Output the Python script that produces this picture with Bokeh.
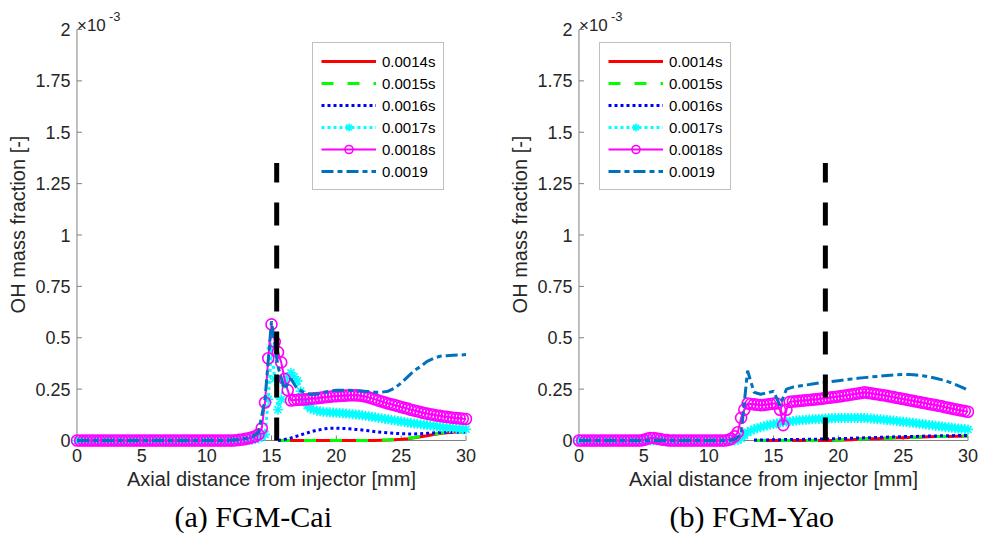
import math
import numpy as np
from bokeh.plotting import figure
from bokeh.layouts import row
from bokeh.models import FixedTicker, Legend, LegendItem, Label, Title, Range1d
from bokeh.embed import file_html
from bokeh.resources import INLINE

NAN = float("nan")

# Axial sampling positions along the injector axis [mm]
AXIAL_MM = [0.0, 0.5, 1.0, 1.5, 2.0, 2.5, 3.0, 3.5, 4.0, 4.5,
            5.0, 5.5, 6.0, 6.5, 7.0, 7.5, 8.0, 8.5, 9.0, 9.5,
            10.0, 10.5, 11.0, 11.5, 12.0, 12.5, 13.0, 13.5, 14.0, 14.5,
            15.0, 15.5, 16.0, 16.5, 17.0, 17.5, 18.0, 18.5, 19.0, 19.5,
            20.0, 20.5, 21.0, 21.5, 22.0, 22.5, 23.0, 23.5, 24.0, 24.5,
            25.0, 25.5, 26.0, 26.5, 27.0, 27.5, 28.0, 28.5, 29.0, 29.5,
            30.0]

# Finer sampling used for the marked (0.0017 s / 0.0018 s) profiles [mm]
AXIAL_FINE_MM = [0.0, 0.25, 0.5, 0.75, 1.0, 1.25, 1.5, 1.75,
                 2.0, 2.25, 2.5, 2.75, 3.0, 3.25, 3.5, 3.75,
                 4.0, 4.25, 4.5, 4.75, 5.0, 5.25, 5.5, 5.75,
                 6.0, 6.25, 6.5, 6.75, 7.0, 7.25, 7.5, 7.75,
                 8.0, 8.25, 8.5, 8.75, 9.0, 9.25, 9.5, 9.75,
                 10.0, 10.25, 10.5, 10.75, 11.0, 11.25, 11.5, 11.75,
                 12.0, 12.25, 12.5, 12.75, 13.0, 13.25, 13.5, 13.75,
                 14.0, 14.25, 14.5, 14.75, 15.0, 15.25, 15.5, 15.75,
                 16.0, 16.25, 16.5, 16.75, 17.0, 17.25, 17.5, 17.75,
                 18.0, 18.25, 18.5, 18.75, 19.0, 19.25, 19.5, 19.75,
                 20.0, 20.25, 20.5, 20.75, 21.0, 21.25, 21.5, 21.75,
                 22.0, 22.25, 22.5, 22.75, 23.0, 23.25, 23.5, 23.75,
                 24.0, 24.25, 24.5, 24.75, 25.0, 25.25, 25.5, 25.75,
                 26.0, 26.25, 26.5, 26.75, 27.0, 27.25, 27.5, 27.75,
                 28.0, 28.25, 28.5, 28.75, 29.0, 29.25, 29.5, 29.75,
                 30.0]

TIME_LABELS = ["0.0014s", "0.0015s", "0.0016s", "0.0017s", "0.0018s", "0.0019"]

# OH mass fraction (x 1e-3), FGM-Cai
CAI_0014 = [NAN, NAN, NAN, NAN, NAN, NAN, NAN, NAN, NAN, NAN,
            NAN, NAN, NAN, NAN, NAN, NAN, NAN, NAN, NAN, NAN,
            NAN, NAN, NAN, NAN, NAN, NAN, NAN, NAN, NAN, NAN,
            NAN, 0.0, 0.0, 0.0, 0.0, 0.0, 0.0, 0.0, 0.0, 0.0,
            0.0, 0.0, 0.0, 0.0, 0.0, 0.0, 0.0, 0.001, 0.002, 0.004,
            0.006, 0.009, 0.013, 0.018, 0.023, 0.029, 0.034, 0.038, 0.040, 0.041,
            0.042]
CAI_0015 = [NAN, NAN, NAN, NAN, NAN, NAN, NAN, NAN, NAN, NAN,
            NAN, NAN, NAN, NAN, NAN, NAN, NAN, NAN, NAN, NAN,
            NAN, NAN, NAN, NAN, NAN, NAN, NAN, NAN, NAN, NAN,
            NAN, 0.0, 0.0, 0.0, 0.0, 0.0, 0.0, 0.0, 0.0, 0.0,
            0.0, 0.0, 0.0, 0.0, 0.0, 0.0, 0.001, 0.002, 0.003, 0.005,
            0.008, 0.011, 0.015, 0.020, 0.026, 0.031, 0.036, 0.039, 0.041, 0.042,
            0.042]
CAI_0016 = [NAN, NAN, NAN, NAN, NAN, NAN, NAN, NAN, NAN, NAN,
            NAN, NAN, NAN, NAN, NAN, NAN, NAN, NAN, NAN, NAN,
            NAN, NAN, NAN, NAN, NAN, NAN, NAN, NAN, NAN, NAN,
            NAN, 0.0, 0.005, 0.013, 0.022, 0.032, 0.042, 0.050, 0.056, 0.060,
            0.060, 0.059, 0.057, 0.054, 0.051, 0.047, 0.043, 0.040, 0.037, 0.035,
            0.033, 0.032, 0.032, 0.033, 0.035, 0.037, 0.039, 0.040, 0.041, 0.041,
            0.041]
CAI_0017 = [0.0, 0.0, 0.0, 0.0, 0.0, 0.0, 0.0, 0.0,
            0.0, 0.0, 0.0, 0.0, 0.0, 0.0, 0.0, 0.0,
            0.0, 0.0, 0.0, 0.0, 0.0, 0.0, 0.0, 0.0,
            0.0, 0.0, 0.0, 0.0, 0.0, 0.0, 0.0, 0.0,
            0.0, 0.0, 0.0, 0.0, 0.0, 0.0, 0.0, 0.0,
            0.0, 0.0, 0.0, 0.0, 0.0, 0.0, 0.0, 0.0,
            0.0, 0.0, 0.0, 0.0, 0.001, 0.002, 0.004, 0.007,
            0.010, 0.018, 0.030, 0.200, 0.450, 0.300, 0.150, 0.200,
            0.280, 0.310, 0.330, 0.310, 0.290, 0.240, 0.190, 0.170,
            0.155, 0.150, 0.145, 0.142, 0.140, 0.138, 0.137, 0.136,
            0.135, 0.134, 0.133, 0.131, 0.130, 0.128, 0.127, 0.125,
            0.123, 0.120, 0.118, 0.115, 0.113, 0.110, 0.108, 0.105,
            0.103, 0.100, 0.098, 0.095, 0.093, 0.090, 0.088, 0.085,
            0.083, 0.081, 0.079, 0.077, 0.075, 0.073, 0.071, 0.069,
            0.067, 0.065, 0.063, 0.061, 0.060, 0.058, 0.057, 0.056,
            0.055]
CAI_0018 = [0.0, 0.0, 0.0, 0.0, 0.0, 0.0, 0.0, 0.0,
            0.0, 0.0, 0.0, 0.0, 0.0, 0.0, 0.0, 0.0,
            0.0, 0.0, 0.0, 0.0, 0.0, 0.0, 0.0, 0.0,
            0.0, 0.0, 0.0, 0.0, 0.0, 0.0, 0.0, 0.0,
            0.0, 0.0, 0.0, 0.0, 0.0, 0.0, 0.0, 0.0,
            0.0, 0.0, 0.0, 0.0, 0.0, 0.0, 0.0, 0.0,
            0.0, 0.001, 0.003, 0.005, 0.008, 0.011, 0.015, 0.020,
            0.030, 0.060, 0.185, 0.400, 0.565, 0.480, 0.430, 0.380,
            0.300, 0.245, 0.195, 0.197, 0.198, 0.199, 0.200, 0.201,
            0.203, 0.205, 0.206, 0.208, 0.210, 0.212, 0.213, 0.215,
            0.216, 0.217, 0.218, 0.219, 0.220, 0.220, 0.220, 0.219,
            0.217, 0.214, 0.210, 0.205, 0.200, 0.195, 0.190, 0.185,
            0.180, 0.176, 0.172, 0.168, 0.163, 0.159, 0.155, 0.150,
            0.146, 0.142, 0.138, 0.134, 0.131, 0.128, 0.125, 0.122,
            0.120, 0.117, 0.115, 0.113, 0.111, 0.109, 0.108, 0.106,
            0.105]
CAI_0019 = [0.0, 0.0, 0.0, 0.0, 0.0, 0.0, 0.0, 0.0, 0.0, 0.0,
            0.0, 0.0, 0.0, 0.0, 0.0, 0.0, 0.0, 0.0, 0.0, 0.0,
            0.0, 0.0, 0.0, 0.0, 0.003, 0.005, 0.010, 0.018, 0.040, 0.200,
            0.580, 0.360, 0.250, 0.300, 0.250, 0.235, 0.225, 0.225, 0.235, 0.240,
            0.245, 0.245, 0.245, 0.242, 0.240, 0.238, 0.235, 0.235, 0.240, 0.255,
            0.280, 0.310, 0.340, 0.360, 0.385, 0.400, 0.410, 0.413, 0.415, 0.416,
            0.418]

# OH mass fraction (x 1e-3), FGM-Yao
YAO_0014 = [NAN, NAN, NAN, NAN, NAN, NAN, NAN, NAN, NAN, NAN,
            NAN, NAN, NAN, NAN, NAN, NAN, NAN, NAN, NAN, NAN,
            NAN, NAN, NAN, NAN, NAN, NAN, NAN, 0.0, 0.0, 0.0,
            0.0, 0.0, 0.0, 0.0, 0.0, 0.0, 0.0, 0.0, 0.0, 0.0,
            0.002, 0.003, 0.004, 0.006, 0.007, 0.008, 0.009, 0.011, 0.012, 0.013,
            0.014, 0.015, 0.016, 0.017, 0.018, 0.019, 0.019, 0.020, 0.021, 0.021,
            0.022]
YAO_0015 = [NAN, NAN, NAN, NAN, NAN, NAN, NAN, NAN, NAN, NAN,
            NAN, NAN, NAN, NAN, NAN, NAN, NAN, NAN, NAN, NAN,
            NAN, NAN, NAN, NAN, NAN, NAN, NAN, 0.0, 0.0, 0.0,
            0.0, 0.0, 0.0, 0.0, 0.0, 0.0, 0.0, 0.0, 0.001, 0.001,
            0.002, 0.003, 0.005, 0.006, 0.007, 0.009, 0.010, 0.011, 0.012, 0.013,
            0.014, 0.015, 0.016, 0.017, 0.018, 0.019, 0.020, 0.020, 0.021, 0.021,
            0.022]
YAO_0016 = [NAN, NAN, NAN, NAN, NAN, NAN, NAN, NAN, NAN, NAN,
            NAN, NAN, NAN, NAN, NAN, NAN, NAN, NAN, NAN, NAN,
            NAN, NAN, NAN, NAN, NAN, NAN, NAN, 0.002, 0.003, 0.003,
            0.004, 0.004, 0.005, 0.005, 0.005, 0.006, 0.006, 0.007, 0.007, 0.008,
            0.009, 0.010, 0.011, 0.012, 0.013, 0.014, 0.015, 0.016, 0.017, 0.018,
            0.019, 0.020, 0.020, 0.021, 0.022, 0.022, 0.023, 0.023, 0.024, 0.024,
            0.024]
YAO_0017 = [0.0, 0.0, 0.0, 0.0, 0.0, 0.0, 0.0, 0.0,
            0.0, 0.0, 0.0, 0.0, 0.0, 0.0, 0.0, 0.0,
            0.0, 0.0, 0.0, 0.0, 0.0, 0.0, 0.0, 0.0,
            0.0, 0.0, 0.0, 0.002, 0.004, 0.006, 0.004, 0.002,
            0.0, 0.0, 0.0, 0.0, 0.0, 0.0, 0.0, 0.0,
            0.0, 0.0, 0.0, 0.0, 0.0, 0.0, 0.0, 0.0,
            0.0, 0.002, 0.010, 0.025, 0.040, 0.048, 0.055, 0.060,
            0.065, 0.069, 0.073, 0.077, 0.080, 0.083, 0.086, 0.089,
            0.091, 0.093, 0.095, 0.097, 0.098, 0.100, 0.101, 0.102,
            0.103, 0.104, 0.105, 0.106, 0.107, 0.108, 0.108, 0.109,
            0.109, 0.110, 0.110, 0.110, 0.110, 0.110, 0.110, 0.110,
            0.109, 0.108, 0.107, 0.106, 0.104, 0.103, 0.101, 0.100,
            0.098, 0.097, 0.095, 0.093, 0.091, 0.090, 0.088, 0.086,
            0.084, 0.082, 0.080, 0.078, 0.076, 0.074, 0.072, 0.070,
            0.068, 0.066, 0.064, 0.062, 0.060, 0.059, 0.057, 0.056,
            0.054]
YAO_0018 = [0.0, 0.0, 0.0, 0.0, 0.0, 0.0, 0.0, 0.0,
            0.0, 0.0, 0.0, 0.0, 0.0, 0.0, 0.0, 0.0,
            0.0, 0.0, 0.0, 0.0, 0.003, 0.008, 0.012, 0.012,
            0.010, 0.007, 0.004, 0.002, 0.0, 0.0, 0.0, 0.0,
            0.0, 0.0, 0.0, 0.0, 0.0, 0.0, 0.0, 0.0,
            0.0, 0.0, 0.0, 0.0, 0.0, 0.0, 0.003, 0.008,
            0.020, 0.040, 0.110, 0.150, 0.180, 0.178, 0.176, 0.174,
            0.172, 0.173, 0.175, 0.178, 0.180, 0.180, 0.150, 0.075,
            0.150, 0.188, 0.190, 0.191, 0.193, 0.194, 0.196, 0.197,
            0.199, 0.200, 0.202, 0.204, 0.206, 0.208, 0.210, 0.212,
            0.214, 0.216, 0.219, 0.221, 0.224, 0.226, 0.229, 0.231,
            0.235, 0.232, 0.230, 0.227, 0.225, 0.222, 0.220, 0.217,
            0.214, 0.211, 0.208, 0.205, 0.202, 0.199, 0.196, 0.193,
            0.190, 0.187, 0.184, 0.181, 0.178, 0.175, 0.172, 0.169,
            0.166, 0.162, 0.159, 0.155, 0.152, 0.149, 0.146, 0.143,
            0.140]
YAO_0019 = [0.0, 0.0, 0.0, 0.0, 0.0, 0.0, 0.0, 0.0, 0.0, 0.0,
            0.0, 0.0, 0.0, 0.0, 0.0, 0.0, 0.0, 0.0, 0.0, 0.0,
            0.0, 0.0, 0.0, 0.0, 0.005, 0.030, 0.340, 0.235, 0.225, 0.232,
            0.240, 0.170, 0.250, 0.260, 0.265, 0.270, 0.275, 0.280, 0.283, 0.287,
            0.291, 0.295, 0.299, 0.303, 0.306, 0.309, 0.312, 0.315, 0.318, 0.320,
            0.321, 0.321, 0.319, 0.315, 0.310, 0.303, 0.295, 0.285, 0.273, 0.260,
            0.245]

# Flame lift-off markers [mm] and their drawn height (x 1e-3)
CAI_LIFTOFF = 15.4
YAO_LIFTOFF = 19.0
LIFTOFF_TOP = 1.35

X_LIMITS = (0, 30)
Y_LIMITS = (0.0, 2.0)
X_TICKS = [0, 5, 10, 15, 20, 25, 30]
Y_TICKS = [0.0, 0.25, 0.5, 0.75, 1.0, 1.25, 1.5, 1.75, 2.0]
Y_TICK_LABELS = ["0", "0.25", "0.5", "0.75", "1", "1.25", "1.5", "1.75", "2"]

SANS = "Liberation Sans"
SERIF = "Liberation Serif"
AXIS_GREY = "#808080"
TEXT_DARK = "#262626"

STYLES = [
    dict(color="#ff0000", width=3, dash="solid", marker=None),
    dict(color="#00ff00", width=3, dash="12 14", marker=None),
    dict(color="#0000ff", width=3, dash="3 3", marker=None),
    dict(color="#00ffff", width=3, dash="3 3", marker="asterisk"),
    dict(color="#ff00ff", width=2, dash="solid", marker="circle"),
    dict(color="#0072bd", width=3, dash="12 4 5 4", marker=None),
]

# frame: 402 x 448 px, data box 0..30 mm x 0..2 spans 389 x 411 px
X_RANGE = (-0.5, 30.5)
Y_RANGE = (-0.0389, 2.1411)


def make_panel(series, liftoff, caption, width, border_left, border_right,
               legend_x, caption_offset):
    p = figure(width=width, height=547,
               x_range=Range1d(*X_RANGE), y_range=Range1d(*Y_RANGE),
               output_backend="svg", toolbar_location=None,
               min_border_left=border_left, min_border_right=border_right,
               min_border_top=0, min_border_bottom=99)
    p.outline_line_color = None
    p.grid.visible = False
    p.background_fill_color = "white"

    # axis box (left and bottom edges) with inward ticks
    p.line([X_LIMITS[0], X_LIMITS[1]], [Y_LIMITS[0], Y_LIMITS[0]],
           line_color=AXIS_GREY, line_width=1)
    p.line([X_LIMITS[0], X_LIMITS[0]], [Y_LIMITS[0], Y_LIMITS[1]],
           line_color=AXIS_GREY, line_width=1)
    p.ray(x=X_TICKS, y=[Y_LIMITS[0]] * len(X_TICKS), length=5,
          length_units="screen", angle=math.pi / 2,
          line_color=AXIS_GREY, line_width=1)
    p.ray(x=[X_LIMITS[0]] * len(Y_TICKS), y=Y_TICKS, length=5,
          length_units="screen", angle=0,
          line_color=AXIS_GREY, line_width=1)

    items = []
    for label, ys, st in zip(TIME_LABELS, series, STYLES):
        y = np.array(ys, dtype=float)
        xs = AXIAL_FINE_MM if len(ys) == len(AXIAL_FINE_MM) else AXIAL_MM
        x = np.array(xs, dtype=float)
        rs = [p.line(x, y, line_color=st["color"], line_width=st["width"],
                     line_dash=st["dash"])]
        if st["marker"] == "circle":
            rs.append(p.scatter(x, y, marker="circle", size=11,
                                line_color=st["color"], fill_color=None,
                                line_width=1.6))
        elif st["marker"] == "asterisk":
            rs.append(p.scatter(x, y, marker="asterisk", size=10,
                                line_color=st["color"], line_width=1.6))
        items.append(LegendItem(label=label, renderers=rs))

    p.line([liftoff, liftoff], [0.0, LIFTOFF_TOP], line_color="black",
           line_width=5, line_dash="23 20")

    xa = p.xaxis[0]
    xa.ticker = FixedTicker(ticks=X_TICKS)
    xa.axis_label = "Axial distance from injector [mm]"

    ya = p.yaxis[0]
    ya.ticker = FixedTicker(ticks=Y_TICKS)
    ya.major_label_overrides = dict(zip(Y_TICKS, Y_TICK_LABELS))
    ya.axis_label = "OH mass fraction [-]"

    for ax in (xa, ya):
        ax.axis_line_color = None
        ax.major_tick_line_color = None
        ax.minor_tick_line_color = None
        ax.major_tick_in = 0
        ax.major_tick_out = 0
        ax.major_label_text_font = SANS
        ax.major_label_text_font_size = "18px"
        ax.major_label_text_color = TEXT_DARK
        ax.major_label_standoff = 0
        ax.axis_label_text_font = SANS
        ax.axis_label_text_font_size = "20px"
        ax.axis_label_text_font_style = "normal"
        ax.axis_label_text_color = TEXT_DARK
        ax.axis_label_standoff = 3

    # exponent of the y axis
    p.add_layout(Label(x=X_LIMITS[0], y=Y_LIMITS[1], x_offset=0, y_offset=4,
                       text="×10", text_font=SANS, text_font_size="17px",
                       text_color=TEXT_DARK, text_baseline="alphabetic"))
    p.add_layout(Label(x=X_LIMITS[0], y=Y_LIMITS[1], x_offset=32, y_offset=13,
                       text="-3", text_font=SANS, text_font_size="13px",
                       text_color=TEXT_DARK, text_baseline="alphabetic"))

    legend = Legend(items=items, location=(legend_x, 258),
                    label_text_font=SANS, label_text_font_size="15px",
                    label_text_color="black", glyph_width=55, glyph_height=20,
                    label_height=20, spacing=2, padding=8, margin=0,
                    label_standoff=6, border_line_color=AXIS_GREY,
                    border_line_width=1, background_fill_color="white",
                    background_fill_alpha=1.0)
    p.add_layout(legend)

    p.add_layout(Title(text=caption, align="left", offset=caption_offset,
                       text_font=SERIF, text_font_size="30px",
                       text_font_style="normal", text_color="black"),
                 "below")
    return p


left = make_panel([CAI_0014, CAI_0015, CAI_0016, CAI_0017, CAI_0018, CAI_0019],
                  CAI_LIFTOFF, "(a) FGM-Cai", 490, 70, 18, 242, 104)
right = make_panel([YAO_0014, YAO_0015, YAO_0016, YAO_0017, YAO_0018, YAO_0019],
                   YAO_LIFTOFF, "(b) FGM-Yao", 491, 82, 7, 27, 97)

layout = row(left, right)
open("out.html", "w").write(file_html(layout, INLINE))
